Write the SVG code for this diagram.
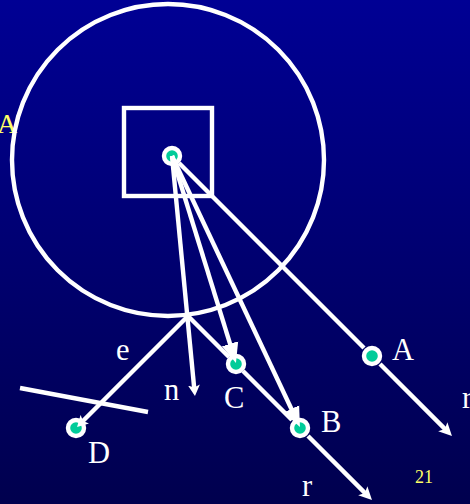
<svg xmlns="http://www.w3.org/2000/svg" width="470" height="504" viewBox="0 0 470 504">
<defs>
<linearGradient id="bg" x1="0" y1="0" x2="0" y2="1"><stop offset="0" stop-color="#000094"/><stop offset="1" stop-color="#00004e"/></linearGradient>
<marker id="ah" markerUnits="userSpaceOnUse" markerWidth="15" markerHeight="14" refX="4" refY="7" orient="auto"><path d="M0 0.5L13 7L0 13.5L3 7Z" fill="#fff"/></marker>
<marker id="big" markerUnits="userSpaceOnUse" markerWidth="22" markerHeight="20" refX="10" refY="10" orient="auto"><path d="M0 1.5L20 10L0 18.5Z" fill="#fff"/></marker>
<marker id="sm" markerUnits="userSpaceOnUse" markerWidth="13" markerHeight="14" refX="3" refY="7" orient="auto"><path d="M0 1L11 7L0 13L2.5 7Z" fill="#fff"/></marker>
</defs>
<style>
.l{fill:none;stroke:#fff;stroke-width:4.4}
.t{font-family:"Liberation Serif","Times New Roman",serif;font-size:30.5px;fill:#fff}
.y{font-family:"Liberation Serif","Times New Roman",serif;fill:#ffff66}
.o{fill:#00cc99;stroke:#fff;stroke-width:4.4}
</style>
<rect width="470" height="504" fill="url(#bg)"/>
<text class="y" x="-3" y="132.5" font-size="28">A</text>
<g id="sphere"><circle class="l" cx="168" cy="160" r="156"/></g>
<g id="box"><rect class="l" x="124" y="108" width="88" height="88"/></g>
<g id="plane"><line class="l" x1="20" y1="388" x2="148" y2="412"/></g>
<g id="nodes">
<g id="node-eye"><circle class="o" cx="172" cy="156" r="8"/></g>
<g id="node-A"><circle class="o" cx="372" cy="356" r="8"/><text class="t" x="392" y="360">A</text></g>
<g id="node-B"><circle class="o" cx="300" cy="428" r="8"/><text class="t" x="321" y="432">B</text></g>
<g id="node-C"><circle class="o" cx="236" cy="364" r="8"/><text class="t" x="224" y="408">C</text></g>
<g id="node-D"><circle class="o" cx="76" cy="428" r="8"/><text class="t" x="88" y="463">D</text></g>
</g>
<g id="connectors">
<line class="l" x1="179" y1="163" x2="364" y2="348"/>
<line class="l" x1="380" y1="364" x2="445.6" y2="429.6" marker-end="url(#ah)"/>
<line class="l" x1="188" y1="316" x2="229" y2="357"/>
<line class="l" x1="243" y1="371" x2="292" y2="420"/>
<line class="l" x1="308" y1="436" x2="365.6" y2="493.6" marker-end="url(#ah)"/>
<line class="l" x1="172" y1="156" x2="194.2" y2="388" marker-end="url(#sm)"/>
<line class="l" x1="188" y1="316" x2="82.7" y2="421.3" marker-end="url(#sm)"/>
<line class="l" x1="172" y1="156" x2="233" y2="353.4" marker-end="url(#big)"/>
<line class="l" x1="172" y1="156" x2="295.7" y2="418" marker-end="url(#big)"/>
</g>
<g id="labels">
<text class="t" x="116" y="360">e</text>
<text class="t" x="164" y="400">n</text>
<text class="t" x="302" y="496">r</text>
<text class="t" x="462" y="408">r</text>
<text class="y" x="415" y="483" font-size="18">21</text>
</g>
</svg>
